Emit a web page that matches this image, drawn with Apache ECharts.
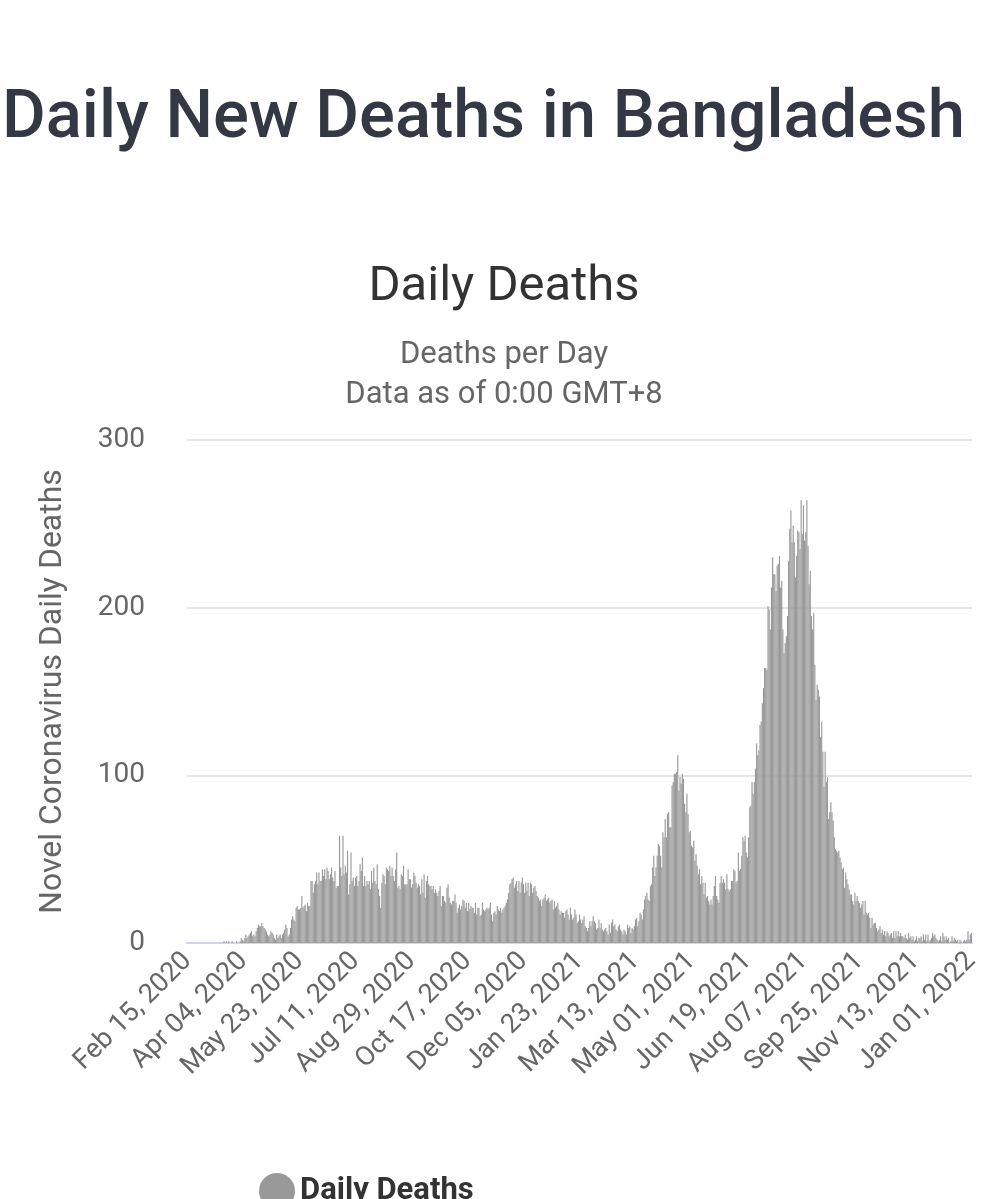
<!DOCTYPE html>
<html>
<head>
<meta charset="utf-8">
<script src="https://cdn.jsdelivr.net/npm/echarts@6/dist/echarts.min.js"></script>
<style>
  html, body { margin: 0; padding: 0; background: #fff; }
  #chart { width: 1008px; height: 1199px; }
</style>
</head>
<body>
<div id="chart"></div>
<script>
// daily deaths, Feb 15 2020 .. Jan 01 2022, one array per month
const feb2020 = [0,0,0,0,0,0,0,0,0,0,0,0,0,0,0];
const mar2020 = [0,0,0,0,0,0,0,0,0,0,0,0,0,0,0,0,0,1,0,1,0,1,0,0,1,0,0,0,1,0,0];
const apr2020 = [1,3,2,1,3,5,3,4,5,6,7,4,5,4,7,9,11,10,10,12,10,9,8,7,5,4,5,7,6,5];
const may2020 = [3,2,5,3,4,5,3,5,6,8,11,9,4,5,9,14,16,14,13,21,22,20,20,21,28,21,22,23,19,24,22];
const jun2020 = [22,37,37,30,35,37,42,35,42,37,37,44,40,44,38,45,43,38,41,45,39,37,43,33,34,34,64,45,40,64];
const jul2020 = [41,46,42,55,29,35,54,37,39,34,39,40,34,37,47,43,51,34,40,34,37,35,37,32,43,36,45,37,35,47,32];
const aug2020 = [28,21,36,41,40,35,45,44,43,46,40,45,40,37,44,54,33,34,32,41,40,46,35,35,35,44,38,38,33,35,42];
const sep2020 = [40,36,33,35,34,29,38,30,41,27,37,40,35,34,34,32,34,30,32,30,28,31,34,22,28,28,25,24,33,35];
const oct2020 = [27,24,23,25,25,29,24,18,21,23,20,22,26,25,21,24,19,24,20,22,21,21,18,24,17,21,21,16,17,24,20];
const nov2020 = [19,20,21,20,21,24,17,13,18,19,17,22,20,19,21,18,20,21,22,24,26,30,35,36,38,39,33,35,37,31];
const dec2020 = [37,30,36,39,35,30,36,31,36,28,36,35,30,33,34,31,28,27,25,26,22,26,27,29,25,26,27,24,25,26,20];
const jan2021 = [25,21,22,24,20,17,19,18,18,15,19,20,17,14,21,17,14,15,20,17,12,13,17,14,12,14,16,10,9,7,9];
const feb2021 = [13,10,13,16,13,12,8,9,14,9,12,8,7,8,9,7,5,11,6,12,14,10,11,8,7,10,11,8];
const mar2021 = [7,5,8,7,5,11,9,10,6,9,8,10,14,15,10,13,18,17,14,20,26,28,30,26,25,34,35,45,52,40,45];
const apr2021 = [52,59,58,52,45,66,63,74,63,77,78,69,69,94,96,101,101,102,112,91,99,95,101,98,83,78,89,77,66,67];
const may2021 = [58,57,61,49,53,46,41,44,35,40,36,29,36,27,28,25,23,26,23,28,34,40,28,26,24,36,40,36,38,36,32];
const jun2021 = [41,32,31,32,37,37,44,43,36,37,54,43,44,52,63,61,64,54,51,63,81,82,96,89,96,104,119,112,115,130];
const jul2021 = [132,143,152,164,164,163,201,199,187,212,230,220,220,210,225,226,231,212,216,187,173,179,183,195,228,247,258,239,249,239,218];
const aug2021 = [231,246,245,235,264,244,261,240,245,264,237,214,222,195,187,197,166,145,154,151,147,123,132,114,93,114,96,99,74,78,84];
const sep2021 = [78,73,63,56,55,54,55,51,48,44,45,33,42,38,35,32,29,29,25,23,30,25,28,25,24,21,23,25,17,25];
const oct2021 = [18,17,18,15,9,15,11,12,12,9,7,8,10,6,8,5,7,4,7,6,4,5,6,3,7,3,7,4,7,4,6];
const nov2021 = [4,4,3,5,3,2,6,3,4,2,4,1,2,4,1,3,3,4,1,5,2,5,1,5,1,2,3,6,4,5];
const dec2021 = [3,2,1,2,4,1,6,4,2,4,2,3,0,1,4,1,3,2,1,2,0,2,1,0,1,2,1,2,7,2,5];
const jan2022 = [6];

const deaths = [].concat(feb2020, mar2020, apr2020, may2020, jun2020, jul2020, aug2020,
  sep2020, oct2020, nov2020, dec2020, jan2021, feb2021, mar2021, apr2021, may2021,
  jun2021, jul2021, aug2021, sep2021, oct2021, nov2021, dec2021, jan2022);

const monthNames = ['Jan','Feb','Mar','Apr','May','Jun','Jul','Aug','Sep','Oct','Nov','Dec'];
const start = Date.UTC(2020, 1, 15);
const dates = deaths.map((_, i) => {
  const d = new Date(start + i * 86400000);
  return monthNames[d.getUTCMonth()] + ' ' + String(d.getUTCDate()).padStart(2, '0') + ', ' + d.getUTCFullYear();
});

const yTicks = [0, 100, 200, 300];

const chart = echarts.init(document.getElementById('chart'));
chart.setOption({
  animation: false,
  title: [
    { text: 'Daily New Deaths in Bangladesh', left: -3, top: 82,
      textStyle: { fontFamily: 'Roboto', fontSize: 67, fontWeight: 500, color: '#333844' } },
    { text: 'Daily Deaths', left: 'center', top: 258,
      textStyle: { fontFamily: 'Roboto', fontSize: 49, fontWeight: 'normal', color: '#333333' } },
    { text: 'Deaths per Day\nData as of 0:00 GMT+8', left: 'center', top: 330,
      textStyle: { fontFamily: 'Roboto', fontSize: 31, fontWeight: 'normal', color: '#666666', lineHeight: 40, align: 'center' } }
  ],
  legend: {
    left: 254, top: 1168, icon: 'circle', itemWidth: 36, itemHeight: 36, itemGap: 12,
    textStyle: { fontFamily: 'Roboto', fontSize: 31, fontWeight: 'bold', color: '#333333' },
    data: ['Daily Deaths']
  },
  grid: { left: 187, right: 36, top: 440, bottom: 256 },
  xAxis: {
    type: 'category', data: dates,
    axisTick: { show: false },
    axisLine: { lineStyle: { color: '#ccd6eb', width: 2 } },
    axisLabel: { interval: 48, rotate: 45, fontFamily: 'Roboto', fontSize: 27, color: '#666666', margin: 14, showMaxLabel: true }
  },
  yAxis: {
    type: 'value', min: yTicks[0], max: yTicks[yTicks.length - 1], interval: 100,
    name: 'Novel Coronavirus Daily Deaths', nameLocation: 'middle', nameGap: 118,
    nameTextStyle: { fontFamily: 'Roboto', fontSize: 32, color: '#666666' },
    axisLabel: { fontFamily: 'Roboto', fontSize: 28, color: '#666666', margin: 42 },
    splitLine: { lineStyle: { color: '#e6e6e6', width: 2 } }
  },
  series: [{
    name: 'Daily Deaths', type: 'bar', data: deaths,
    barCategoryGap: '0%',
    itemStyle: { color: '#999999' }
  }]
});
</script>
</body>
</html>
